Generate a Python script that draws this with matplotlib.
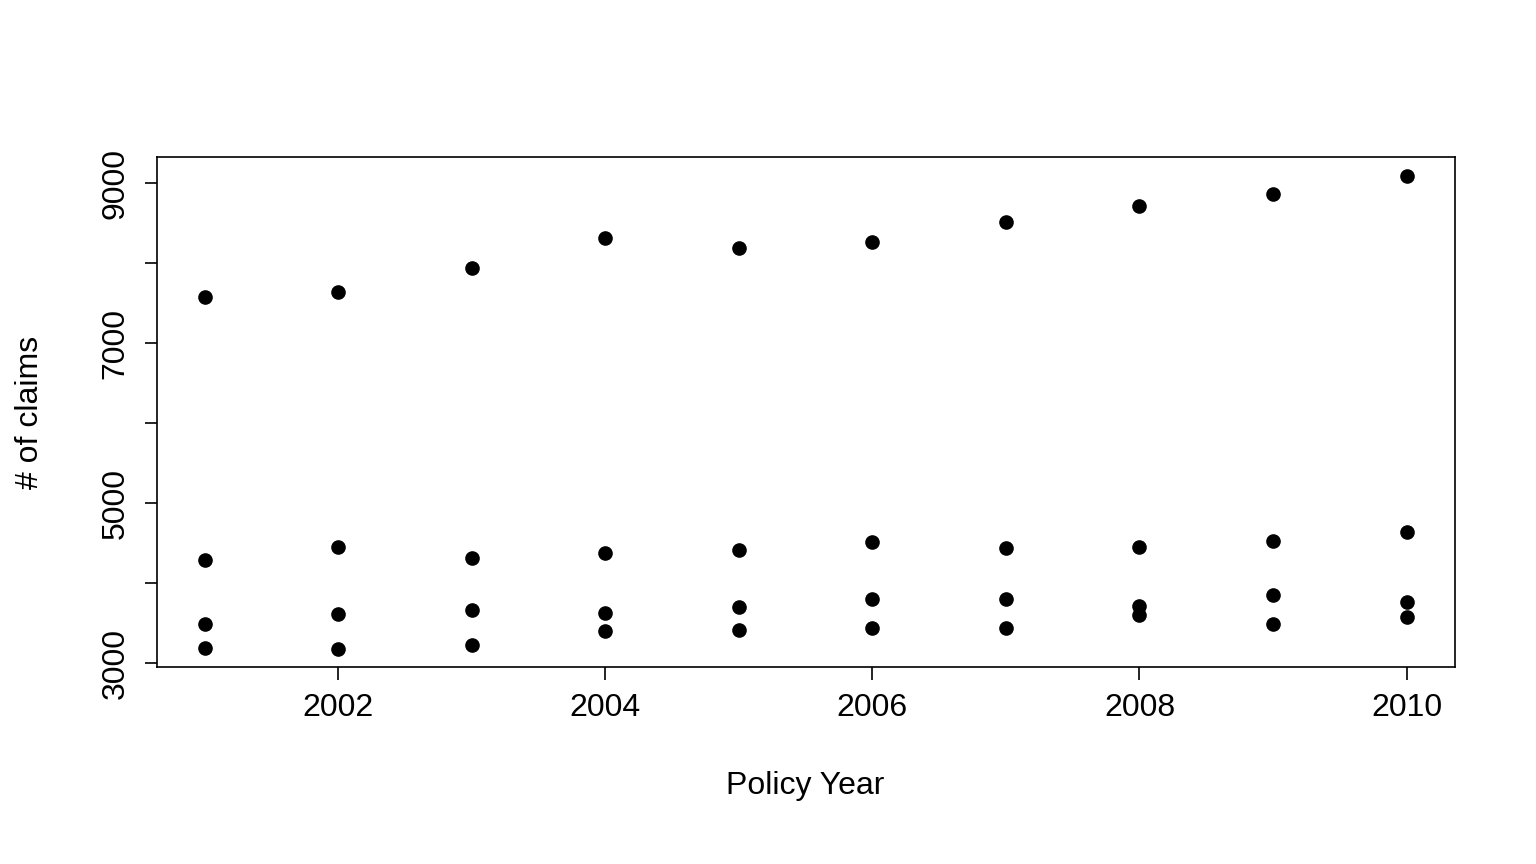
import matplotlib
matplotlib.use("Agg")
import matplotlib.pyplot as plt

plt.rcParams['font.family'] = ['Liberation Sans', 'DejaVu Sans']

years = list(range(2001, 2011))
claims_a = [7575, 7638, 7938, 8313, 8188, 8263, 8513, 8713, 8863, 9088]
claims_b = [4288, 4450, 4313, 4375, 4413, 4513, 4438, 4450, 4525, 4638]
claims_c = [3488, 3613, 3663, 3625, 3700, 3800, 3800, 3713, 3850, 3763]
claims_d = [3188, 3175, 3225, 3400, 3413, 3438, 3438, 3600, 3488, 3575]

fig = plt.figure(figsize=(15.36, 8.64), dpi=100)
ax = fig.add_axes([0.102, 0.228, 0.845, 0.590])
for s in (claims_a, claims_b, claims_c, claims_d):
    ax.plot(years, s, "o", color="black", markersize=9.5, linestyle="none")

ax.set_xlim(2000.64, 2010.36)
ax.set_ylim(2950, 9325)
ax.set_xticks([2002, 2004, 2006, 2008, 2010])
ax.set_yticks(range(3000, 10000, 1000))
ax.set_yticklabels(["3000", "", "5000", "", "7000", "", "9000"], rotation=90, va="center")
ax.tick_params(labelsize=23, length=9, width=1.2, pad=10)
for sp in ax.spines.values():
    sp.set_linewidth(1.2)
ax.set_xlabel("Policy Year", fontsize=23, labelpad=34)
ax.set_ylabel("# of claims", fontsize=23, labelpad=40)
fig.savefig("out.png", dpi=100)
